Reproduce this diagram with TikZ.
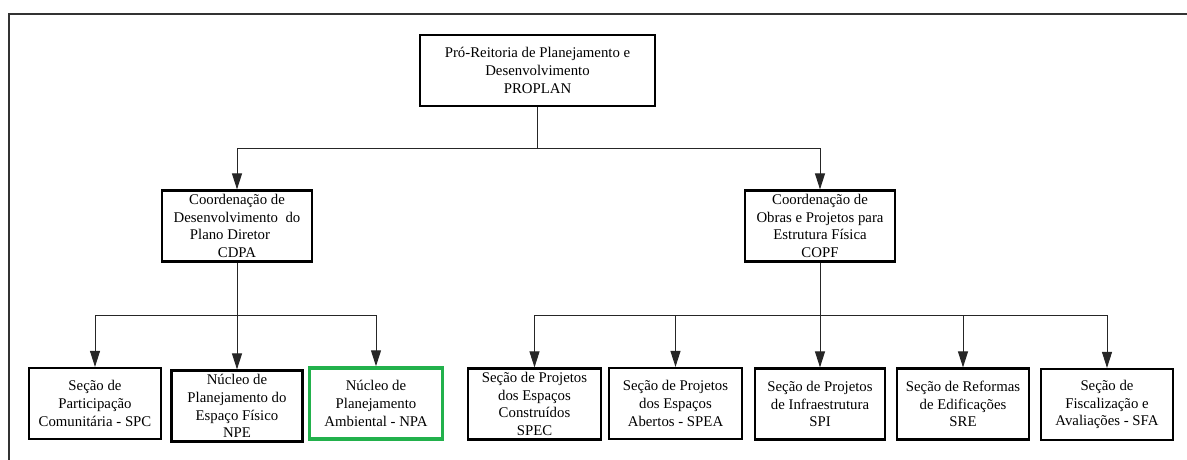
\documentclass[tikz,border=0pt]{standalone}
\usepackage{fontspec}
\setmainfont{Liberation Serif}
\usetikzlibrary{arrows.meta}
\definecolor{npagreen}{RGB}{34,177,76}

\begin{document}
\begin{tikzpicture}
    [x=1pt,y=-1pt,inner sep=0pt,align=center,
     font=\fontsize{14.8}{17.8}\selectfont,
     >={Triangle[length=16pt,width=10pt]},
     orgbox/.style={draw,line width=2.2pt,minimum width=#1,minimum height=71pt},
     conn/.style={line width=1pt,draw=black!85},
     frame/.style={line width=2.5pt,draw=black!80}]

    \useasboundingbox (0,0) rectangle (1187,459);

    % outer frame:
    \draw [frame] (9,470) -- (9,14) -- (1195,14);

    % top unit:
    \node (proplan) at (537.5, 70.5) [orgbox=235pt] {Pró-Reitoria de Planejamento e\\ Desenvolvimento\\ PROPLAN};

    % coordinations:
    \node (cdpa) at (237, 226) [orgbox=150pt] {Coordenação de\\ Desenvolvimento~ do\\ Plano Diretor\kern14pt\\ CDPA};
    \node (copf) at (820, 226) [orgbox=150pt] {Coordenação de\\ Obras e Projetos para\\ Estrutura Física\\ COPF};

    % sections under CDPA:
    \node (spc) at (95, 403.5) [orgbox=132pt] {Seção de\\ Participação\\ Comunitária - SPC};
    \node (npe) at (237, 406) [orgbox=131pt] {Núcleo de\\ Planejamento do\\ Espaço Físico\\ NPE};
    \node (npa) at (376, 403.5) [orgbox=133pt,draw=npagreen,line width=3.5pt] {Núcleo de\\ Planejamento\\ Ambiental - NPA};

    % sections under COPF:
    \node (spec) at (534.5, 404) [orgbox=133pt] {Seção de Projetos\\ dos Espaços\\ Construídos\\ SPEC};
    \node (spea) at (675.5, 403.5) [orgbox=133pt] {Seção de Projetos\\ dos Espaços\\ Abertos - SPEA};
    \node (spi) at (820, 404) [orgbox=130pt] {Seção de Projetos\\ de Infraestrutura\\ SPI};
    \node (sre) at (963, 404) [orgbox=132pt] {Seção de Reformas\\ de Edificações\\ SRE};
    \node (sfa) at (1107, 404.5) [orgbox=132pt] {Seção de\\ Fiscalização e\\ Avaliações - SFA};

    % bus points:
    \coordinate (topbus) at (537.5, 148);
    \coordinate (leftbus) at (237, 315);
    \coordinate (rightbus) at (820, 315);

    % connect nodes:
    \draw [conn] (proplan) -- (topbus);
    \draw [conn,->] (topbus) -| (cdpa);
    \draw [conn,->] (topbus) -| (copf);

    \draw [conn] (cdpa) -- (leftbus);
    \draw [conn,->] (leftbus) -| (spc);
    \draw [conn,->] (leftbus) -- (npe);
    \draw [conn,->] (leftbus) -| (npa);

    \draw [conn] (copf) -- (rightbus);
    \draw [conn,->] (rightbus) -| (spec);
    \draw [conn,->] (rightbus) -| (spea);
    \draw [conn,->] (rightbus) -- (spi);
    \draw [conn,->] (rightbus) -| (sre);
    \draw [conn,->] (rightbus) -| (sfa);

\end{tikzpicture}
\end{document}
